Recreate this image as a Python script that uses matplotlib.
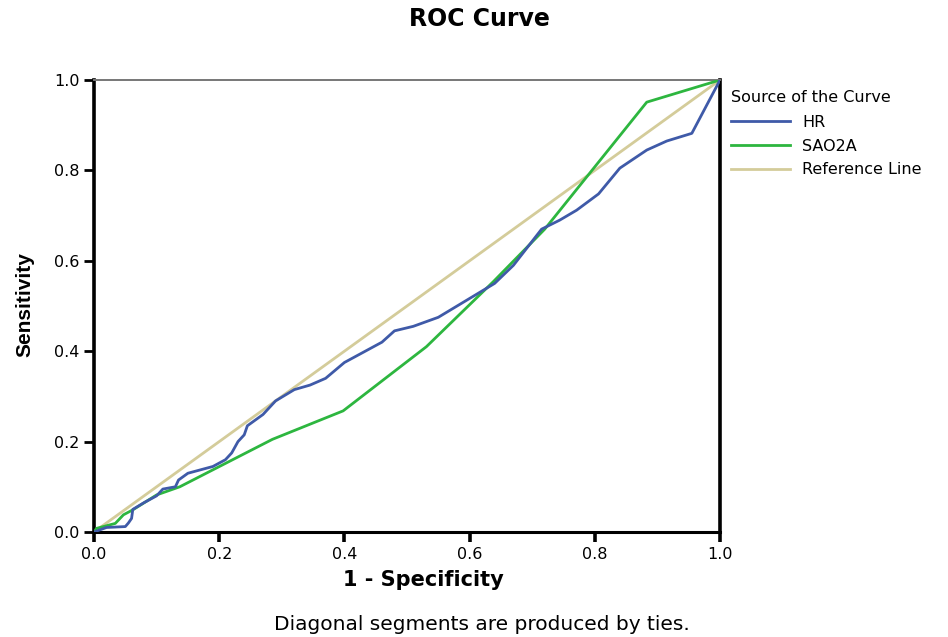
import matplotlib
matplotlib.use("Agg")
import matplotlib.pyplot as plt
from matplotlib.lines import Line2D

plt.rcParams['font.family'] = ['DejaVu Sans']

# ROC coordinates (1 - specificity, sensitivity)
hr_fpr = [0.0, 0.02, 0.05, 0.055, 0.06, 0.062, 0.08, 0.10, 0.11, 0.13, 0.135, 0.15,
          0.19, 0.21, 0.22, 0.23, 0.24, 0.245, 0.27, 0.29, 0.32, 0.345, 0.37, 0.40,
          0.46, 0.48, 0.51, 0.55, 0.58, 0.61, 0.64, 0.67, 0.715, 0.744, 0.771, 0.806,
          0.84, 0.883, 0.915, 0.955, 1.0]
hr_tpr = [0.0, 0.01, 0.012, 0.02, 0.03, 0.05, 0.065, 0.08, 0.095, 0.10, 0.115, 0.13,
          0.145, 0.16, 0.175, 0.20, 0.215, 0.235, 0.26, 0.29, 0.315, 0.325, 0.34, 0.375,
          0.42, 0.445, 0.455, 0.475, 0.50, 0.525, 0.55, 0.59, 0.67, 0.69, 0.712, 0.748,
          0.805, 0.845, 0.865, 0.882, 1.0]

sao2a_fpr = [0.0, 0.004, 0.034, 0.047, 0.062, 0.10, 0.137, 0.285, 0.398, 0.531,
             0.638, 0.72, 0.883, 1.0]
sao2a_tpr = [0.0, 0.008, 0.019, 0.038, 0.049, 0.082, 0.10, 0.205, 0.268, 0.41,
             0.554, 0.67, 0.951, 1.0]

ref_line = [0.0, 1.0]

ticks = [0.0, 0.2, 0.4, 0.6, 0.8, 1.0]
tick_labels = ["0.0", "0.2", "0.4", "0.6", "0.8", "1.0"]

hr_color = "#3f5aa8"
sao_color = "#2db63f"
ref_color = "#d4cc9a"

fig = plt.figure(figsize=(9.48, 6.37), dpi=100)
ax = fig.add_axes([94 / 948, 105 / 637, 626 / 948, 452 / 637])

ax.plot(ref_line, ref_line, color=ref_color, lw=2.0, zorder=2)
ax.plot(sao2a_fpr, sao2a_tpr, color=sao_color, lw=2.0, zorder=3)
ax.plot(hr_fpr, hr_tpr, color=hr_color, lw=2.0, zorder=4)

ax.set_xlim(0, 1)
ax.set_ylim(0, 1)
ax.set_xticks(ticks)
ax.set_xticklabels(tick_labels)
ax.set_yticks(ticks)
ax.set_yticklabels(tick_labels)
ax.tick_params(direction="out", length=7.5, labelsize=11.5, color="black", pad=3)
ax.tick_params(axis="y", width=2.0)
ax.tick_params(axis="x", width=2.6)

for side in ("left", "right"):
    ax.spines[side].set_linewidth(2.6)
    ax.spines[side].set_color("black")
ax.spines["bottom"].set_linewidth(2.2)
ax.spines["bottom"].set_color("black")
ax.spines["top"].set_linewidth(1.4)
ax.spines["top"].set_color("#777777")

ax.set_xlabel("1 - Specificity", fontsize=15, fontweight="bold")
ax.xaxis.set_label_coords((423 - 94) / 626, -(580 - 532) / 452)
ax.xaxis.label.set_va("center")
ax.set_ylabel("Sensitivity", fontsize=15, fontweight="bold",
              family=["Liberation Sans", "DejaVu Sans"])
ax.yaxis.set_label_coords(-(94 - 25) / 626, (532 - 305) / 452)
ax.yaxis.label.set_va("center")

fig.text(479 / 948, 1 - 19.5 / 637, "ROC Curve", ha="center", va="center",
         fontsize=17, fontweight="bold")
fig.text(482 / 948, 1 - 624 / 637, "Diagonal segments are produced by ties.",
         ha="center", va="center", fontsize=14.5)

handles = [Line2D([], [], color=hr_color, lw=2),
           Line2D([], [], color=sao_color, lw=2),
           Line2D([], [], color=ref_color, lw=2)]
leg = fig.legend(handles, ["HR", "SAO2A", "Reference Line"],
                 title="Source of the Curve", loc="upper left",
                 bbox_to_anchor=(731 / 948, 1 - 90 / 637), frameon=False,
                 fontsize=11.5, title_fontsize=11.5, handlelength=3.7,
                 handletextpad=0.75, labelspacing=0.55, borderaxespad=0,
                 borderpad=0)
leg._legend_box.align = "left"
leg._legend_box.sep = 7

fig.savefig("out.png", dpi=100)
